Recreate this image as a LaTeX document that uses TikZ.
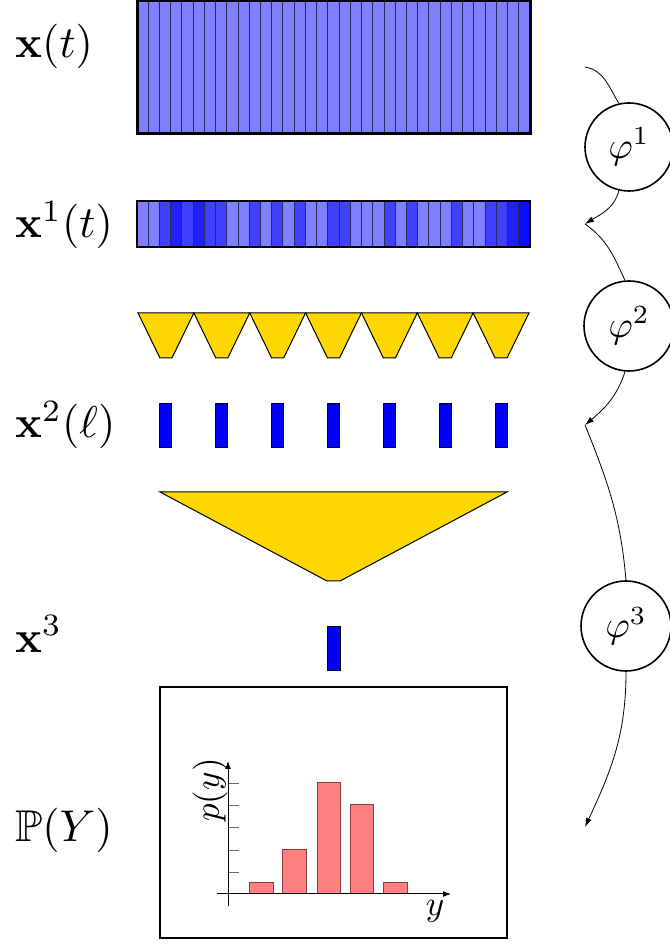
\documentclass[tikz,border=0pt]{standalone}
\usepackage{graphicx}
\usepackage{amsmath,amssymb}
\usetikzlibrary{arrows.meta}
\definecolor{gold}{RGB}{255,215,0}
\definecolor{cellline}{RGB}{40,40,90}
\definecolor{barline}{RGB}{140,60,60}
\colorlet{shadeL}{blue!50}
\colorlet{shadeM}{blue!75}
\colorlet{shadeD}{blue!88}
\colorlet{shadeE}{blue!95}
\newcommand{\biglbl}[1]{\scalebox{4.45}{#1}}
\newcommand{\philbl}[1]{\scalebox{3.75}{#1}}
\newcommand{\axtxt}[1]{\scalebox{3.5}{#1}}
\begin{document}
\begin{tikzpicture}[x=1pt,y=1pt,
  lbl/.style={anchor=west, inner sep=0pt},
  phinode/.style={circle, draw, line width=1.6pt, minimum size=88pt, inner sep=0pt},
  flowin/.style={line width=0.8pt},
  flow/.style={line width=0.8pt, -{Latex[length=9pt,width=6pt]}},
  cell/.style={draw=cellline, line width=1pt},
  pool/.style={fill=gold, draw=black, line width=1pt},
  feat/.style={fill=blue, draw=black, line width=0.9pt},
  histbar/.style={fill=red!50, draw=barline, line width=1pt},
  axisline/.style={line width=1pt, -{Latex[length=8pt,width=6pt]}},
  tick/.style={draw=black!60, line width=0.9pt},
  axlbl/.style={inner sep=0pt}
]
\useasboundingbox (0,0) rectangle (669,944);

% labels
\node[lbl] (lx) at (15,898) {\biglbl{$\mathbf{x}(t)$}};
\node[lbl] (lx1) at (15,719) {\biglbl{$\mathbf{x}^1(t)$}};
\node[lbl] (lx2) at (15,519) {\biglbl{$\mathbf{x}^2(\ell)$}};
\node[lbl] (lx3) at (15,310) {\biglbl{$\mathbf{x}^3$}};
\node[lbl] (lp) at (15,114) {\biglbl{$\mathbb{P}(Y)$}};

% x(t)
\foreach \i in {0,...,34}
  \draw[cell, fill=shadeL] ({137+\i*393/35},810) rectangle ({137+(\i+1)*393/35},943);
\draw[line width=3pt] (137,810) rectangle (530,943);

% x1(t)
\foreach \c [count=\i from 0] in {L,L,M,D,M,D,M,M,L,L,M,L,M,L,M,L,L,M,M,L,L,L,M,L,M,L,L,L,M,L,L,M,M,D,E}
  \draw[cell, fill=shade\c] ({137+\i*393/35},697) rectangle ({137+(\i+1)*393/35},743);
\draw[line width=2.4pt] (137,697) rectangle (530,743);

% pooling trapezoids and x2
\foreach \i in {0,...,6}{
  \pgfmathsetmacro{\cx}{138+27.93+\i*55.86}
  \draw[pool] (\cx-27.9,631) -- (\cx+27.9,631) -- (\cx+6,586) -- (\cx-6,586) -- cycle;
  \draw[feat] (\cx-6,497) rectangle (\cx+6,541);
}

% big pooling and x3
\draw[pool] (160,452) -- (507,452) -- (340,363) -- (327,363) -- cycle;
\draw[feat] (327,274) rectangle (340,318);

% histogram box
\draw[line width=1.2pt] (160,6) rectangle (507,257);
\draw[histbar] (249,50) rectangle (273,61);
\draw[histbar] (282,50) rectangle (306,94);
\draw[histbar] (317,50) rectangle (340,161);
\draw[histbar] (350,50) rectangle (373,139);
\draw[histbar] (383,50) rectangle (407,61);
\foreach \ty in {72,94,117,139,161}
  \draw[tick] (228,\ty) -- (239,\ty);
\draw[axisline] (217,50) -- (451,50);
\draw[axisline] (228,38) -- (228,183);
\node[axlbl, rotate=90] (py) at (210,154) {\axtxt{$p(y)$}};
\node[axlbl] (ly) at (435,33) {\axtxt{$y$}};

% mapping circles
\node[phinode] (phi1) at (629,797) {\philbl{$\varphi^1$}};
\node[phinode, minimum size=90pt] (phi2) at (629,618) {\philbl{$\varphi^2$}};
\node[phinode, minimum size=90pt] (phi3) at (626,318) {\philbl{$\varphi^3$}};
\coordinate (c0) at (585,877);
\coordinate (c1) at (585,720);
\coordinate (c2) at (585,519);
\coordinate (c3) at (585,117);

\draw[flowin] (c0) to[out=-10,in=122] (phi1.103);
\draw[flow] (phi1.-103) to[out=-105,in=32] (c1);
\draw[flowin] (c1) to[out=-35,in=115] (phi2.95);
\draw[flow] (phi2.-95) to[out=-108,in=40] (c2);
\draw[flowin] (c2) to[out=-68,in=95] (phi3.90);
\draw[flow] (phi3.-90) to[out=-90,in=65] (c3);
\end{tikzpicture}
\end{document}
